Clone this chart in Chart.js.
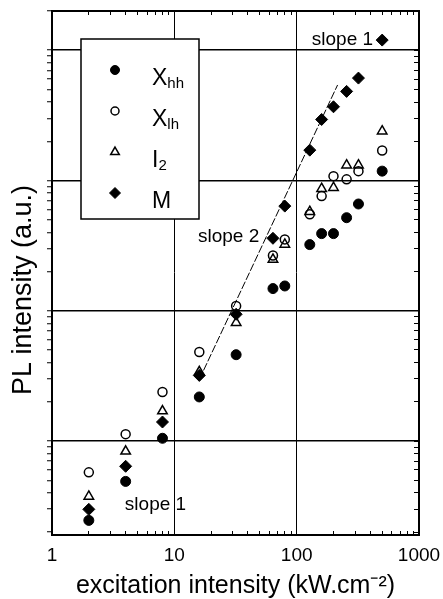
<!DOCTYPE html>
<html>
<head>
<meta charset="utf-8">
<script src="https://cdn.jsdelivr.net/npm/chart.js@4.4.1/dist/chart.umd.min.js"></script>
<style>
  html, body { margin: 0; padding: 0; background: #fff; }
  #wrap { width: 443px; height: 599px; }
</style>
</head>
<body>
<div id="wrap"><canvas id="plot"></canvas></div>
<script>
// excitation intensity (kW.cm-2)
var excitation = [2, 4, 8, 16, 32, 64, 80, 128, 160, 200, 256, 320, 500];
// PL intensity (a.u.)
var xhh   = [0.246, 0.49, 1.05, 2.18, 4.6, 14.8, 15.5, 32.2, 39.1, 39.1, 51.8, 66, 118];
var xlh   = [0.575, 1.13, 2.38, 4.82, 10.9, 26.6, 35.3, 55, 75.9, 108, 102, 118, 170];
var i2    = [0.376, 0.834, 1.70, 3.4, 8.1, 24.8, 32.3, 57.6, 86.5, 88, 131, 131, 239];
var mLine = [0.299, 0.64, 1.40, 3.19, 9.4, 36.0, 63.6, 171, 294, 368, 483, 611, 1196];
// slope 2 guide line end points
var fitX = [16, 216];
var fitY = [2.97, 541];

var legendMain = ['X', 'X', 'I', 'M'];
var legendSub  = ['hh', 'lh', '2', ''];
var xTickLabels = ['1', '10', '100', '1000'];

var notes = [
  { text: 'slope 1', x: 133, y: 1210 },
  { text: 'slope 2', x: 15.6, y: 37.2 },
  { text: 'slope 1', x: 3.94, y: 0.327 }
];

var FONT = '"Liberation Sans", Arial, Helvetica, sans-serif';
Chart.defaults.font.family = FONT;
Chart.defaults.color = '#000';

function pairs(xs, ys) {
  var out = [];
  for (var i = 0; i < xs.length; i++) out.push({ x: xs[i], y: ys[i] });
  return out;
}

function isMajor(v) {
  var l = Math.log10(v);
  return Math.abs(l - Math.round(l)) < 1e-6;
}

// 1..9 per decade, so that minor tick marks show up
function logTicks(scale) {
  var lo = scale.min, hi = scale.max, t = [];
  for (var e = Math.floor(Math.log10(lo)); e <= Math.ceil(Math.log10(hi)); e++) {
    for (var s = 1; s < 10; s++) {
      var v = s * Math.pow(10, e);
      if (v >= lo * 0.999 && v <= hi * 1.001) t.push({ value: v, major: isMajor(v) });
    }
  }
  scale.ticks = t;
}

function gridColor(c) {
  return c.tick && isMajor(c.tick.value) ? '#000' : 'rgba(0,0,0,0)';
}

// fixed box sizes so the plot area lands where the original has it
function fixSize(w, h) {
  return function(s) {
    if (w !== null) s.width = w;
    if (h !== null) s.height = h;
    s.paddingLeft = 0; s.paddingRight = 0;
    s.paddingTop = 0; s.paddingBottom = 0;
  };
}

var decor = {
  id: 'decor',
  afterDatasetsDraw: function(chart) {
    var ctx = chart.ctx, xs = chart.scales.x, ys = chart.scales.y;
    ctx.save();

    ctx.fillStyle = '#000';
    ctx.font = '19px ' + FONT;
    ctx.textBaseline = 'middle';
    ctx.textAlign = 'left';
    notes.forEach(function(n) {
      ctx.fillText(n.text, xs.getPixelForValue(n.x), ys.getPixelForValue(n.y));
    });

    // legend
    ctx.fillStyle = '#fff';
    ctx.fillRect(81, 39, 118, 180);
    ctx.lineWidth = 1.5;
    ctx.strokeStyle = '#000';
    ctx.strokeRect(81, 39, 118, 180);
    var sizes = [4.5, 4, 5, 5.5];
    for (var i = 0; i < legendMain.length; i++) {
      var ds = chart.data.datasets[i];
      var my = 70 + i * 41;
      ctx.fillStyle = ds.backgroundColor;
      ctx.strokeStyle = '#000';
      ctx.lineWidth = ds.borderWidth;
      Chart.helpers.drawPoint(ctx, { pointStyle: ds.pointStyle, radius: sizes[i], borderWidth: ds.borderWidth, rotation: 0 }, 115, my);
      ctx.fillStyle = '#000';
      ctx.textBaseline = 'alphabetic';
      ctx.font = '23px ' + FONT;
      ctx.fillText(legendMain[i], 152, my + 15);
      if (legendSub[i]) {
        var w = ctx.measureText(legendMain[i]).width;
        ctx.font = '15px ' + FONT;
        ctx.fillText(legendSub[i], 152 + w, my + 18);
      }
    }

    // y axis title
    ctx.translate(24, 290);
    ctx.rotate(-Math.PI / 2);
    ctx.font = '27px ' + FONT;
    ctx.textAlign = 'center';
    ctx.textBaseline = 'middle';
    ctx.fillStyle = '#000';
    ctx.fillText('PL intensity (a.u.)', 0, 0);
    ctx.restore();
  }
};

var frameSide = function(pos, len, w, h) {
  return {
    type: 'logarithmic',
    position: pos,
    min: pos === 'top' ? 1 : 0.19,
    max: pos === 'top' ? 1000 : 2000,
    afterBuildTicks: logTicks,
    afterFit: fixSize(w, h),
    ticks: { display: false },
    grid: { drawOnChartArea: false, tickLength: len, tickColor: '#000', tickWidth: 1 },
    border: { display: true, color: '#000', width: 2 }
  };
};

new Chart(document.getElementById('plot'), {
  type: 'scatter',
  data: {
    datasets: [
      { label: 'Xhh', data: pairs(excitation, xhh), pointStyle: 'circle', pointRadius: 5,
        backgroundColor: '#000', borderColor: '#000', borderWidth: 1 },
      { label: 'Xlh', data: pairs(excitation, xlh), pointStyle: 'circle', pointRadius: 4.5,
        backgroundColor: 'rgba(0,0,0,0)', borderColor: '#000', borderWidth: 1.5 },
      { label: 'I2', data: pairs(excitation, i2), pointStyle: 'triangle', pointRadius: 5.5,
        backgroundColor: 'rgba(0,0,0,0)', borderColor: '#000', borderWidth: 1.5 },
      { label: 'M', data: pairs(excitation, mLine), pointStyle: 'rectRot', pointRadius: 6,
        backgroundColor: '#000', borderColor: '#000', borderWidth: 1 },
      { label: 'fit', data: pairs(fitX, fitY), showLine: true, pointRadius: 0,
        borderColor: '#000', borderWidth: 1, borderDash: [8, 2], backgroundColor: '#000' }
    ]
  },
  options: {
    responsive: true,
    maintainAspectRatio: false,
    animation: false,
    events: [],
    layout: { padding: 0 },
    plugins: { legend: { display: false }, tooltip: { enabled: false } },
    scales: {
      x: {
        type: 'logarithmic',
        position: 'bottom',
        min: 1,
        max: 1000,
        afterBuildTicks: logTicks,
        afterFit: fixSize(null, 64),
        ticks: {
          autoSkip: false,
          maxRotation: 0,
          padding: 13,
          font: { size: 19 },
          callback: function(v) {
            return xTickLabels.indexOf(String(v)) >= 0 ? String(v) : '';
          }
        },
        grid: { color: gridColor, lineWidth: 1, tickLength: -4, tickColor: '#000', tickWidth: 1 },
        border: { display: true, color: '#000', width: 2 },
        title: {
          display: true,
          text: 'excitation intensity (kW.cm\u207B\u00B2)',
          font: { size: 25, lineHeight: 1 },
          padding: { top: 0, bottom: 0 }
        }
      },
      y: {
        type: 'logarithmic',
        position: 'left',
        min: 0.19,
        max: 2000,
        afterBuildTicks: logTicks,
        afterFit: fixSize(52, null),
        ticks: { display: false },
        grid: { color: gridColor, lineWidth: 1.5, tickLength: 5, tickColor: '#000', tickWidth: 1 },
        border: { display: true, color: '#000', width: 2 }
      },
      x2: frameSide('top', -4, null, 11),
      y2: frameSide('right', -5, 24, null)
    }
  },
  plugins: [decor]
});
</script>
</body>
</html>
